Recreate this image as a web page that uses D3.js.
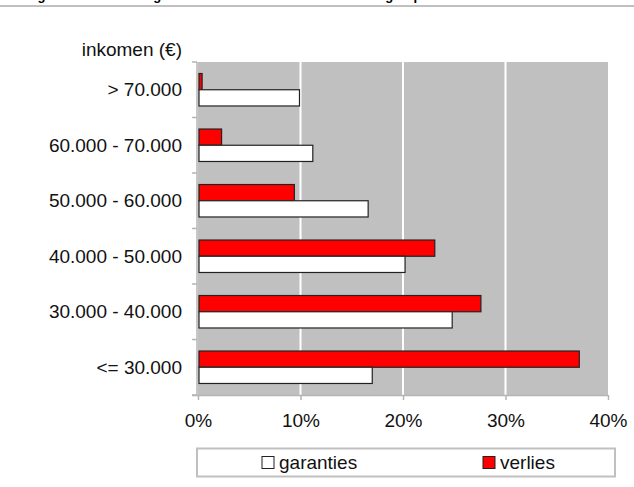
<!DOCTYPE html>
<html>
<head>
<meta charset="utf-8">
<script src="https://cdn.jsdelivr.net/npm/d3@7"></script>
<style>
  html, body { margin: 0; padding: 0; background: #fff; }
  svg { display: block; font-family: "Liberation Sans", Arial, sans-serif; }
</style>
</head>
<body>
<svg id="chart" width="634" height="487"></svg>
<script>
// Income brackets, top to bottom
const categories = ["> 70.000", "60.000 - 70.000", "50.000 - 60.000", "40.000 - 50.000", "30.000 - 40.000", "<= 30.000"];
// Share of guarantees per bracket (%)
const garanties = [9.9, 11.2, 16.6, 20.2, 24.8, 17.0];
// Share of losses per bracket (%)
const verlies = [0.4, 2.3, 9.4, 23.1, 27.6, 37.2];
const xTicks = [0, 10, 20, 30, 40];
const seriesNames = ["verlies", "garanties"];
const legendLabels = ["garanties", "verlies"];

const svg = d3.select("#chart");
const fontSize = 19;

const plot = { left: 198, right: 608, top: 62, bottom: 395 };

const x = d3.scaleLinear().domain([0, 40]).range([plot.left, plot.right]);
const y = d3.scaleBand().domain(categories).range([plot.top, plot.bottom]).padding(0);
const ySub = d3.scaleBand().domain(seriesNames).range([0, y.bandwidth()])
  .paddingInner(0).paddingOuter(0.71);
const fill = { verlies: "#ff0000", garanties: "#ffffff" };

// Header rule with the caption above it, running off the top edge
svg.append("text")
  .attr("x", 26).attr("y", 0)
  .attr("font-size", 13).attr("font-weight", "bold")
  .attr("fill", "#000")
  .text("Figuur 5. Aandeel in garanties en in verlies naar inkomensgroep");
svg.append("rect")
  .attr("x", 0).attr("y", 5).attr("width", 634).attr("height", 2)
  .attr("fill", "#c0c0c0");

// Plot background
svg.append("rect")
  .attr("x", plot.left).attr("y", plot.top)
  .attr("width", plot.right - plot.left).attr("height", plot.bottom - plot.top)
  .attr("fill", "#c0c0c0");

// Vertical gridlines
svg.append("g").selectAll("line")
  .data(xTicks.filter(d => d > 0 && d < 40))
  .join("line")
  .attr("x1", d => x(d)).attr("x2", d => x(d))
  .attr("y1", plot.top).attr("y2", plot.bottom)
  .attr("stroke", "#ffffff").attr("stroke-width", 2);

// Bars
const rows = categories.map((c, i) => ({ cat: c, verlies: verlies[i], garanties: garanties[i] }));
const groups = svg.append("g").selectAll("g")
  .data(rows)
  .join("g")
  .attr("transform", d => `translate(0,${y(d.cat)})`);

groups.selectAll("rect")
  .data(d => seriesNames.map(s => ({ s, v: d[s] })))
  .join("rect")
  .attr("x", x(0) + 1)
  .attr("y", d => ySub(d.s))
  .attr("width", d => Math.max(0, x(d.v) - x(0) - 1))
  .attr("height", ySub.bandwidth())
  .attr("fill", d => fill[d.s])
  .attr("stroke", "#222")
  .attr("stroke-width", 1.2);

// Left axis (category boundaries)
const axisColor = "#b4b4b4";
const yAxisG = svg.append("g");
yAxisG.append("line")
  .attr("x1", plot.left - 1).attr("x2", plot.left - 1)
  .attr("y1", plot.top).attr("y2", plot.bottom)
  .attr("stroke", axisColor).attr("stroke-width", 1.5);
const boundaries = categories.map(c => y(c)).concat([plot.bottom]);
yAxisG.selectAll("line.tick")
  .data(boundaries)
  .join("line")
  .attr("class", "tick")
  .attr("x1", plot.left - 6).attr("x2", plot.left - 1)
  .attr("y1", d => d).attr("y2", d => d)
  .attr("stroke", axisColor).attr("stroke-width", 1.5);

// Category labels
svg.append("g").selectAll("text")
  .data(categories)
  .join("text")
  .attr("x", 182)
  .attr("y", d => y(d) + y.bandwidth() / 2)
  .attr("dy", "0.35em")
  .attr("text-anchor", "end")
  .attr("font-size", fontSize)
  .attr("fill", "#111")
  .text(d => d);

svg.append("text")
  .attr("x", 182).attr("y", 56)
  .attr("text-anchor", "end")
  .attr("font-size", fontSize)
  .attr("fill", "#111")
  .text("inkomen (€)");

// Bottom axis
const xAxis = d3.axisBottom(x).tickValues(xTicks).tickFormat(d => d + "%").tickSize(5).tickPadding(14);
const xAxisG = svg.append("g")
  .attr("transform", `translate(0,${plot.bottom})`)
  .call(xAxis);
xAxisG.select(".domain").attr("stroke", axisColor).attr("stroke-width", 1.5)
  .attr("d", `M${plot.left - 6},0.5H${plot.right}`);
xAxisG.selectAll(".tick line").attr("stroke", axisColor).attr("stroke-width", 1.5);
xAxisG.selectAll(".tick text")
  .attr("font-size", fontSize)
  .attr("font-family", "Liberation Sans, Arial, sans-serif")
  .attr("fill", "#111");

// Legend
const legend = svg.append("g");
legend.append("rect")
  .attr("x", 197).attr("y", 448.5).attr("width", 418).attr("height", 28)
  .attr("fill", "#fff").attr("stroke", "#c0c0c0").attr("stroke-width", 2);
const legendX = [262, 483];
const legendFill = { garanties: "#ffffff", verlies: "#ff0000" };
legendLabels.forEach((name, i) => {
  legend.append("rect")
    .attr("x", legendX[i]).attr("y", 456.5)
    .attr("width", 12).attr("height", 12)
    .attr("fill", legendFill[name])
    .attr("stroke", "#222").attr("stroke-width", 1);
  legend.append("text")
    .attr("x", legendX[i] + 17).attr("y", 469)
    .attr("font-size", fontSize)
    .attr("fill", "#111")
    .text(name);
});
</script>
</body>
</html>
